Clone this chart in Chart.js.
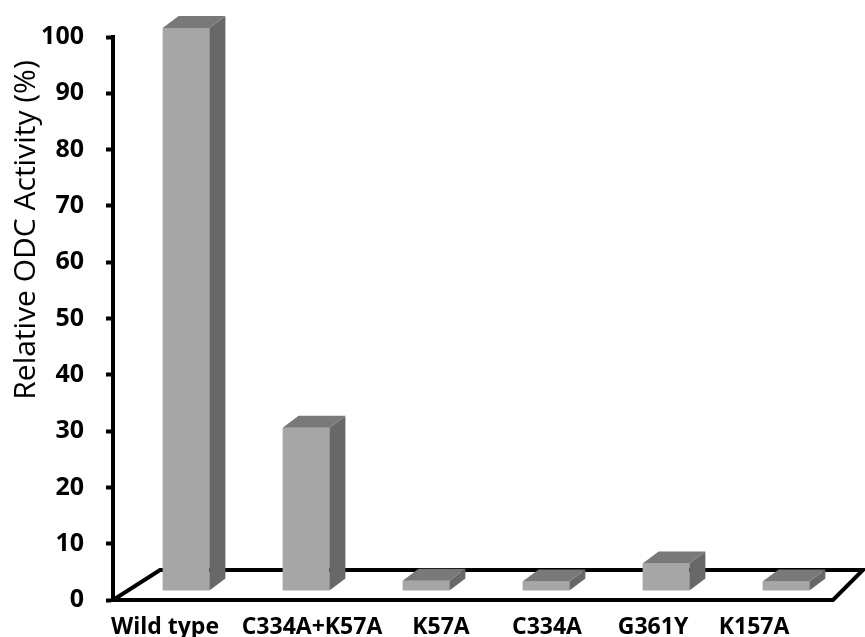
<!DOCTYPE html>
<html>
<head>
<meta charset="utf-8">
<script src="https://cdn.jsdelivr.net/npm/chart.js@4"></script>
<style>
  html, body { margin: 0; padding: 0; background: #fff; }
  #wrap { width: 865px; height: 637px; }
</style>
</head>
<body>
<div id="wrap"><canvas id="odcChart"></canvas></div>
<script>
const mutants = ['Wild type', 'C334A+K57A', 'K57A', 'C334A', 'G361Y', 'K157A'];
const activity = [100, 29, 1.8, 1.7, 4.9, 1.7];
const yTicks = [0, 10, 20, 30, 40, 50, 60, 70, 80, 90, 100];

// label nudges along the front edge (px)
const labelShift = [-8, 19, 28, 14, 0, -19];

const frontColor = '#a6a6a6';
const sideColor = '#686868';
const topColor = '#797979';

// fake 3D: bars sit a bit back on the floor, with a small box depth
const barOffset = { x: 13, y: -9 };
const boxDepth = { x: 16, y: -12 };
const floorBack = { left: 47, right: 30, rise: 30 };

const box3d = {
    id: 'box3d',
    beforeDatasetsDraw(chart) {
        const { ctx, chartArea } = chart;
        const y0 = chart.scales.y.getPixelForValue(0);
        ctx.save();
        ctx.strokeStyle = '#000';
        ctx.lineWidth = 4;
        ctx.lineJoin = 'miter';
        ctx.beginPath();
        ctx.moveTo(chartArea.left, y0);
        ctx.lineTo(chartArea.right, y0);
        ctx.lineTo(chartArea.right + floorBack.right, y0 - floorBack.rise);
        ctx.lineTo(chartArea.left + floorBack.left, y0 - floorBack.rise);
        ctx.closePath();
        ctx.stroke();
        ctx.restore();
        // front faces are drawn by chart.js, pushed back onto the floor
        ctx.save();
        ctx.translate(barOffset.x, barOffset.y);
    },
    afterDatasetsDraw(chart) {
        const { ctx } = chart;
        ctx.restore();
        const meta = chart.getDatasetMeta(0);
        meta.data.forEach(bar => {
            const p = bar.getProps(['x', 'y', 'base', 'width'], true);
            const l = p.x - p.width / 2 + barOffset.x;
            const r = p.x + p.width / 2 + barOffset.x;
            const t = p.y + barOffset.y;
            const b = p.base + barOffset.y;
            ctx.save();
            // right side
            ctx.fillStyle = sideColor;
            ctx.beginPath();
            ctx.moveTo(r, t);
            ctx.lineTo(r + boxDepth.x, t + boxDepth.y);
            ctx.lineTo(r + boxDepth.x, b + boxDepth.y);
            ctx.lineTo(r, b);
            ctx.closePath();
            ctx.fill();
            // top
            ctx.fillStyle = topColor;
            ctx.beginPath();
            ctx.moveTo(l, t);
            ctx.lineTo(l + boxDepth.x, t + boxDepth.y);
            ctx.lineTo(r + boxDepth.x, t + boxDepth.y);
            ctx.lineTo(r, t);
            ctx.closePath();
            ctx.fill();
            ctx.restore();
        });
    },
    afterDraw(chart) {
        const { ctx } = chart;
        const xs = chart.scales.x;
        ctx.save();
        ctx.fillStyle = '#000';
        ctx.font = 'bold 23px "Open Sans"';
        ctx.textAlign = 'center';
        ctx.textBaseline = 'alphabetic';
        mutants.forEach((m, i) => {
            ctx.fillText(m, xs.getPixelForValue(i) + labelShift[i], 634);
        });
        // y axis title
        ctx.translate(26, 230);
        ctx.rotate(-Math.PI / 2);
        ctx.font = '30px "Open Sans"';
        ctx.textBaseline = 'middle';
        ctx.fillText('Relative ODC Activity (%)', 0, 0);
        ctx.restore();
    }
};

const ctx = document.getElementById('odcChart').getContext('2d');
new Chart(ctx, {
    type: 'bar',
    data: {
        labels: mutants,
        datasets: [{
            label: 'Relative ODC Activity',
            data: activity,
            backgroundColor: frontColor,
            borderWidth: 0,
            barPercentage: 0.39,
            categoryPercentage: 1,
            clip: false
        }]
    },
    options: {
        responsive: true,
        maintainAspectRatio: false,
        animation: false,
        events: [],
        layout: { padding: { left: 0, right: 32, top: 33, bottom: 37 } },
        plugins: {
            legend: { display: false },
            tooltip: { enabled: false }
        },
        scales: {
            x: {
                display: false,
                offset: true
            },
            y: {
                min: 0,
                max: 100,
                afterFit(scale) { scale.width = 113; },
                afterBuildTicks(scale) {
                    scale.ticks = yTicks.map(v => ({ value: v }));
                },
                border: { display: true, color: '#000', width: 4 },
                grid: {
                    drawOnChartArea: false,
                    drawTicks: true,
                    tickLength: 7,
                    tickWidth: 4,
                    tickColor: '#000'
                },
                ticks: {
                    color: '#000',
                    padding: 22,
                    font: { family: 'Open Sans', size: 25, weight: 'bold' }
                }
            }
        }
    },
    plugins: [box3d]
});
</script>
</body>
</html>
